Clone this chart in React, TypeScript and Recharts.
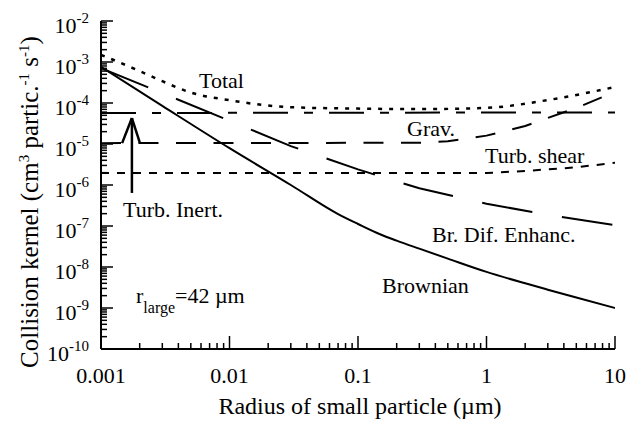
import React from 'react';
import { LineChart, Line, XAxis, YAxis, ReferenceLine } from 'recharts';

// radius of small particle (um) and collision kernels (cm3 partic.-1 s-1)
const radius = [0.001, 0.003, 0.01, 0.03, 0.07, 0.1, 0.15, 0.2, 0.3, 0.5, 1, 2, 3, 5, 10];
const brownian = [7.6e-4, 8.5e-5, 7.9e-6, 1.0e-6, 1.95e-7, 1.12e-7, 6.2e-8, 4.4e-8, 2.8e-8, 1.6e-8, 7.6e-9, 4.0e-9, 2.8e-9, 1.8e-9, 1.0e-9];

const difRadius = [0.001, 0.003, 0.01, 0.03, 0.1, 0.3, 1, 3, 10];
const brDifEnhanc = [7.1e-4, 1.74e-4, 3.7e-5, 8.9e-6, 2.4e-6, 8.3e-7, 3.5e-7, 1.86e-7, 1.05e-7];

const totalRadius = [0.001, 0.002, 0.003, 0.005, 0.01, 0.03, 0.1, 0.3, 1, 3, 10];
const total = [1.5e-3, 6e-4, 3.4e-4, 1.8e-4, 1.17e-4, 7.9e-5, 7.3e-5, 7.1e-5, 7.6e-5, 1.18e-4, 2.45e-4];

const inertRadius = [0.001, 0.3, 0.5, 1, 2, 5, 10];
const turbInert = [1.05e-5, 1.07e-5, 1.17e-5, 1.6e-5, 2.75e-5, 7.6e-5, 1.86e-4];

const gravRadius = [0.001, 10];
const grav = [5.7e-5, 5.9e-5];

const shearRadius = [0.001, 1, 2, 5, 10];
const turbShear = [1.95e-6, 1.95e-6, 2.2e-6, 2.7e-6, 3.5e-6];

// arrow pointing at the Turb. Inert. curve
const arrowX = [0.00146, 0.00174, 0.00201];
const arrowY = [6.4e-7, 4.3e-5, 1.05e-5];

const xDecades = [0.001, 0.01, 0.1, 1, 10];
const yDecades = [1e-10, 1e-9, 1e-8, 1e-7, 1e-6, 1e-5, 1e-4, 1e-3, 1e-2];
const minorSteps = [1, 2, 3, 4, 5, 6, 7, 8, 9];

const xTicks = xDecades.flatMap((d, i) => (i === xDecades.length - 1 ? [d] : minorSteps.map((m) => d * m)));
const yTicks = yDecades.flatMap((d, i) => (i === yDecades.length - 1 ? [d] : minorSteps.map((m) => d * m)));

const FONT = "'Liberation Serif', 'Times New Roman', Times, Tinos, 'Noto Serif', 'DejaVu Serif', serif";

const isMajor = (v: number) => Math.abs(Math.log10(v) - Math.round(Math.log10(v))) < 1e-6;

const pts = (xs: number[], ys: number[]) => xs.map((r, i) => ({ r, k: ys[i] }));

const txt = (size: number) => ({ fontFamily: FONT, fontSize: size, fill: '#000' });

const BottomTick = (props: any) => {
  const { x, y, payload } = props;
  const major = isMajor(payload.value);
  return (
    <g>
      <line x1={x} x2={x} y1={y} y2={y - (major ? 13 : 6)} stroke="#000" strokeWidth={1.5} />
      {major && (
        <text x={x} y={y + 34} textAnchor="middle" style={txt(22)}>
          {String(payload.value)}
        </text>
      )}
    </g>
  );
};

const TopTick = (props: any) => {
  const { x, y, payload } = props;
  const major = isMajor(payload.value);
  return <line x1={x} x2={x} y1={y} y2={y + (major ? 13 : 6)} stroke="#000" strokeWidth={1.5} />;
};

const LeftTick = (props: any) => {
  const { x, y, payload } = props;
  const major = isMajor(payload.value);
  const exp = Math.round(Math.log10(payload.value));
  return (
    <g>
      <line x1={x} x2={x + (major ? 12 : 6)} y1={y} y2={y} stroke="#000" strokeWidth={1.5} />
      {major && (
        <text x={x - 12} y={y + 12} textAnchor="end" style={txt(22)}>
          10<tspan dy={-10} style={{ fontSize: 15 }}>{exp}</tspan>
        </text>
      )}
    </g>
  );
};

const RightTick = (props: any) => {
  const { x, y, payload } = props;
  const major = isMajor(payload.value);
  return <line x1={x} x2={x - (major ? 12 : 6)} y1={y} y2={y} stroke="#000" strokeWidth={1.5} />;
};

export default function App() {
  const axisLine = { stroke: '#000', strokeWidth: 2 };
  const sup = { fontSize: 15 };
  return (
    <div style={{ position: 'fixed', left: 0, top: 0, width: 626, height: 423, background: '#fff', fontFamily: FONT }}>
      <LineChart width={626} height={423} margin={{ top: 21, right: 11, bottom: 0, left: 0 }}>
        <XAxis xAxisId="b" dataKey="r" type="number" scale="log" domain={[0.001, 10]} allowDataOverflow
          ticks={xTicks} interval={0} tick={<BottomTick />} tickLine={false} tickSize={0} tickMargin={0}
          height={74} axisLine={axisLine} />
        <XAxis xAxisId="t" orientation="top" dataKey="r" type="number" scale="log" domain={[0.001, 10]} allowDataOverflow
          ticks={xTicks} interval={0} tick={<TopTick />} tickLine={false} tickSize={0} tickMargin={0}
          height={0} axisLine={axisLine} />
        <YAxis yAxisId="l" type="number" scale="log" domain={[1e-10, 1e-2]} allowDataOverflow
          ticks={yTicks} interval={0} tick={<LeftTick />} tickLine={false} tickSize={0} tickMargin={0}
          width={101} axisLine={axisLine} />
        <YAxis yAxisId="rt" orientation="right" type="number" scale="log" domain={[1e-10, 1e-2]} allowDataOverflow
          ticks={yTicks} interval={0} tick={<RightTick />} tickLine={false} tickSize={0} tickMargin={0}
          width={0} axisLine={axisLine} />

        <Line xAxisId="b" yAxisId="l" data={pts(radius, brownian)} dataKey="k" stroke="#000" strokeWidth={2}
          type="monotone" dot={false} activeDot={false} isAnimationActive={false} />
        <Line xAxisId="b" yAxisId="l" data={pts(difRadius, brDifEnhanc)} dataKey="k" stroke="#000" strokeWidth={2}
          strokeDasharray="51 30" dot={false} activeDot={false} isAnimationActive={false} />
        <Line xAxisId="b" yAxisId="l" data={pts(totalRadius, total)} dataKey="k" stroke="#000" strokeWidth={2.5}
          type="monotone" strokeDasharray="4 7" dot={false} activeDot={false} isAnimationActive={false} />
        <Line xAxisId="b" yAxisId="l" data={pts(gravRadius, grav)} dataKey="k" stroke="#000" strokeWidth={2}
          strokeDasharray="35 16 9 16" dot={false} activeDot={false} isAnimationActive={false} />
        <Line xAxisId="b" yAxisId="l" data={pts(inertRadius, turbInert)} dataKey="k" stroke="#000" strokeWidth={2}
          strokeDasharray="20 17.5" dot={false} activeDot={false} isAnimationActive={false} />
        <Line xAxisId="b" yAxisId="l" data={pts(shearRadius, turbShear)} dataKey="k" stroke="#000" strokeWidth={2}
          strokeDasharray="8 8" dot={false} activeDot={false} isAnimationActive={false} />

        <ReferenceLine xAxisId="b" yAxisId="l" stroke="#000" strokeWidth={2.5}
          segment={[{ x: arrowX[1], y: arrowY[0] }, { x: arrowX[1], y: arrowY[1] }]} />
        <ReferenceLine xAxisId="b" yAxisId="l" stroke="#000" strokeWidth={2.5}
          segment={[{ x: arrowX[0], y: arrowY[2] }, { x: arrowX[1], y: arrowY[1] }]} />
        <ReferenceLine xAxisId="b" yAxisId="l" stroke="#000" strokeWidth={2.5}
          segment={[{ x: arrowX[1], y: arrowY[1] }, { x: arrowX[2], y: arrowY[2] }]} />
      </LineChart>

      <svg width={626} height={423} style={{ position: 'absolute', left: 0, top: 0, pointerEvents: 'none', overflow: 'visible' }}>
        <text x={199} y={88} style={txt(22)}>Total</text>
        <text x={407} y={136} style={txt(22)}>Grav.</text>
        <text x={485} y={163} style={txt(22)}>Turb. shear</text>
        <text x={123} y={217} style={txt(22)}>Turb. Inert.</text>
        <text x={432} y={242} style={txt(22)}>Br. Dif. Enhanc.</text>
        <text x={382} y={293} style={txt(22)}>Brownian</text>
        <text x={136} y={303} style={txt(22)}>
          r<tspan dy={10} style={{ fontSize: 16 }}>large</tspan><tspan dy={-10}>=42 µm</tspan>
        </text>
        <text x={360} y={414} textAnchor="middle" style={txt(24)}>
          Radius of small particle (µm)
        </text>
        <text x={38} y={202} textAnchor="middle" style={txt(25)} transform="rotate(-90 38 202)">
          Collision kernel (cm<tspan dy={-9} style={sup}>3</tspan>
          <tspan dy={9}> partic.</tspan><tspan dy={-9} style={sup}>-1</tspan>
          <tspan dy={9}> s</tspan><tspan dy={-9} style={sup}>-1</tspan><tspan dy={9}>)</tspan>
        </text>
      </svg>
    </div>
  );
}
